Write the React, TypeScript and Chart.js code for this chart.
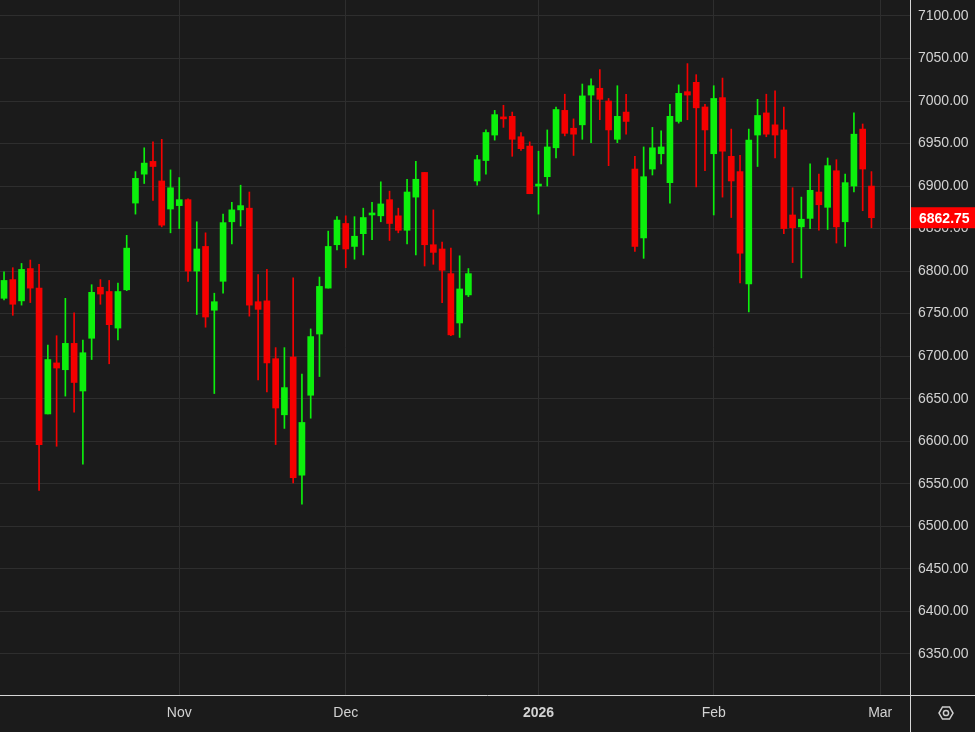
import { useEffect, useRef } from 'react';
import { Chart, registerables } from 'chart.js';

Chart.register(...registerables);

// daily candles, Oct 6 2025 -> Feb 27 2026
const opens = [
  6768, 6790, 6765, 6803, 6780, 6632, 6692, 6684, 6715, 6659,
  6721, 6781, 6776, 6733, 6778, 6880, 6914, 6929, 6906, 6873,
  6877, 6884, 6800, 6829, 6754, 6788, 6858, 6872, 6874, 6764,
  6765, 6697, 6631, 6699, 6560, 6654, 6726, 6780, 6831, 6856,
  6829, 6844, 6866, 6865, 6884, 6865, 6848, 6887, 6916, 6831,
  6826, 6797, 6739, 6772, 6906, 6930, 6960, 6980, 6982, 6958,
  6947, 6900, 6911, 6945, 6989, 6968, 6972, 7007, 7015, 7000,
  6955, 6987, 6920, 6839, 6920, 6938, 6904, 6976, 7011, 7022,
  6993, 6938, 7004, 6935, 6917, 6785, 6960, 6986, 6972, 6966,
  6866, 6852, 6862, 6893, 6875, 6918, 6858, 6900, 6967, 6900,
];
const highs = [
  6799, 6804, 6809, 6813, 6808, 6713, 6724, 6768, 6751, 6719,
  6784, 6790, 6789, 6786, 6842, 6917, 6945, 6952, 6955, 6919,
  6910, 6885, 6858, 6845, 6774, 6867, 6881, 6901, 6893, 6796,
  6802, 6710, 6710, 6792, 6679, 6732, 6793, 6847, 6864, 6865,
  6864, 6874, 6881, 6905, 6894, 6874, 6908, 6929, 6916, 6872,
  6834, 6827, 6818, 6803, 6936, 6966, 6989, 6995, 6987, 6963,
  6952, 6941, 6966, 6993, 7008, 6979, 7020, 7026, 7037, 7003,
  7018, 7008, 6935, 6946, 6969, 6965, 6996, 7019, 7044, 7031,
  6996, 7018, 7027, 6967, 6936, 6967, 7002, 7008, 7012, 6993,
  6898, 6887, 6926, 6914, 6933, 6931, 6914, 6986, 6973, 6917,
];
const lows = [
  6766, 6748, 6760, 6763, 6542, 6632, 6594, 6653, 6634, 6573,
  6696, 6761, 6691, 6719, 6777, 6867, 6903, 6883, 6852, 6845,
  6850, 6788, 6749, 6734, 6656, 6774, 6832, 6853, 6747, 6672,
  6658, 6596, 6615, 6551, 6526, 6627, 6676, 6780, 6825, 6804,
  6814, 6819, 6837, 6858, 6836, 6845, 6832, 6819, 6806, 6808,
  6763, 6724, 6722, 6770, 6901, 6914, 6954, 6969, 6935, 6942,
  6891, 6867, 6900, 6933, 6959, 6936, 6955, 6951, 6978, 6924,
  6951, 6961, 6823, 6815, 6913, 6926, 6880, 6974, 6978, 6899,
  6918, 6866, 6887, 6863, 6786, 6752, 6923, 6958, 6933, 6844,
  6810, 6792, 6850, 6848, 6849, 6833, 6829, 6893, 6871, 6851,
];
const closes = [
  6789, 6761, 6802, 6780, 6596, 6696, 6686, 6715, 6669, 6704,
  6775, 6773, 6737, 6776, 6827, 6909, 6927, 6923, 6854, 6898,
  6884, 6800, 6826, 6746, 6764, 6857, 6872, 6877, 6760, 6755,
  6692, 6639, 6663, 6557, 6622, 6723, 6782, 6829, 6860, 6826,
  6841, 6863, 6867, 6879, 6856, 6848, 6893, 6908, 6831, 6822,
  6801, 6725, 6779, 6797, 6931, 6963, 6984, 6979, 6955, 6944,
  6891, 6902, 6946, 6990, 6962, 6961, 7006, 7018, 7002, 6966,
  6982, 6976, 6829, 6911, 6945, 6946, 6982, 7009, 7007, 6992,
  6966, 7003, 6941, 6906, 6821, 6954, 6983, 6961, 6960, 6850,
  6851, 6861, 6895, 6878, 6924, 6852, 6904, 6961, 6920, 6862.75,
];

const monthTickIndex = [20, 39, 61, 81, 100];
const monthTickLabels = ['Nov', 'Dec', '2026', 'Feb', 'Mar'];
const priceTicks = [
  6350, 6400, 6450, 6500, 6550, 6600, 6650, 6700,
  6750, 6800, 6850, 6900, 6950, 7000, 7050, 7100,
];

const UP = '#0cf00c';
const DOWN = '#f50000';
const BG = '#1b1b1b';
const GRID = '#2e2e2e';
const AXIS = '#d6d6d6';
const TEXT = '#d2d2d2';
const FONT = '"Liberation Sans", Arial, sans-serif';

const chromePlugin = {
  id: 'chrome',
  beforeDraw(chart: any) {
    const { ctx, width, height } = chart;
    ctx.save();
    ctx.fillStyle = BG;
    ctx.fillRect(0, 0, width, height);
    ctx.restore();
  },
  afterDraw(chart: any) {
    const { ctx, width, height, chartArea } = chart;
    const yScale = chart.scales.y;
    ctx.save();
    // axis borders
    ctx.strokeStyle = AXIS;
    ctx.lineWidth = 1;
    ctx.beginPath();
    ctx.moveTo(Math.round(chartArea.right) + 0.5, 0);
    ctx.lineTo(Math.round(chartArea.right) + 0.5, height);
    ctx.moveTo(0, Math.round(chartArea.bottom) + 0.5);
    ctx.lineTo(width, Math.round(chartArea.bottom) + 0.5);
    ctx.stroke();

    // last price tag
    const last = closes[closes.length - 1];
    const py = yScale.getPixelForValue(last);
    ctx.fillStyle = '#ff0000';
    ctx.fillRect(chartArea.right + 1, py - 10.5, width - chartArea.right - 1, 21);
    ctx.fillStyle = '#ffffff';
    ctx.font = `bold 14px ${FONT}`;
    ctx.textAlign = 'left';
    ctx.textBaseline = 'middle';
    ctx.fillText(last.toFixed(2), chartArea.right + 9, py + 1);

    // settings icon
    const cx = 946;
    const cy = 713;
    const r = 7;
    ctx.strokeStyle = '#cfcfcf';
    ctx.lineWidth = 1.5;
    ctx.beginPath();
    for (let k = 0; k < 6; k++) {
      const a = (Math.PI / 3) * k;
      const px = cx + r * Math.cos(a);
      const pyy = cy + r * Math.sin(a);
      if (k === 0) ctx.moveTo(px, pyy);
      else ctx.lineTo(px, pyy);
    }
    ctx.closePath();
    ctx.stroke();
    ctx.beginPath();
    ctx.arc(cx, cy, 2.6, 0, Math.PI * 2);
    ctx.stroke();
    ctx.restore();
  },
};

export default function App() {
  const chartRef = useRef<HTMLCanvasElement>(null);

  useEffect(() => {
    document.body.style.margin = '0';
    document.body.style.background = BG;
    if (!chartRef.current) return;
    const ctx = chartRef.current.getContext('2d');
    if (!ctx) return;

    const idx = closes.map((_, i) => i);
    const colors = idx.map((i) => (closes[i] >= opens[i] ? UP : DOWN));

    const chart = new Chart(ctx, {
      type: 'bar',
      data: {
        datasets: [
          {
            label: 'Body',
            data: idx.map((i) => ({ x: i, y: [opens[i], closes[i]] })) as any,
            backgroundColor: colors,
            barThickness: 6,
            minBarLength: 2,
            grouped: false,
            order: 0,
          },
          {
            label: 'Wick',
            data: idx.map((i) => ({ x: i, y: [lows[i], highs[i]] })) as any,
            backgroundColor: colors,
            barThickness: 1,
            grouped: false,
            order: 1,
          },
        ],
      },
      options: {
        responsive: true,
        maintainAspectRatio: false,
        animation: false,
        events: [],
        layout: { padding: 0 },
        plugins: {
          legend: { display: false },
          tooltip: { enabled: false },
        },
        scales: {
          x: {
            type: 'linear',
            min: -0.46,
            max: 103.4,
            offset: false,
            afterFit: (scale: any) => {
              scale.height = 37;
              scale.paddingLeft = 0;
              scale.paddingRight = 0;
            },
            afterBuildTicks: (scale: any) => {
              scale.ticks = monthTickIndex.map((v) => ({ value: v }));
            },
            grid: {
              color: GRID,
              offset: false,
              drawTicks: false,
            },
            border: { display: false },
            ticks: {
              autoSkip: false,
              maxRotation: 0,
              padding: 10,
              color: TEXT,
              font: (c: any) => {
                const lbl = monthTickLabels[monthTickIndex.indexOf(c.tick?.value)];
                return {
                  family: FONT,
                  size: 14,
                  weight: /^\d{4}$/.test(lbl || '') ? 'bold' : 'normal',
                };
              },
              callback: (v: any) => monthTickLabels[monthTickIndex.indexOf(Number(v))],
            },
          },
          y: {
            type: 'linear',
            position: 'right',
            min: 6301.5,
            max: 7118.8,
            afterFit: (scale: any) => {
              scale.width = 65;
              scale.paddingTop = 0;
              scale.paddingBottom = 0;
            },
            afterBuildTicks: (scale: any) => {
              scale.ticks = priceTicks.map((v) => ({ value: v }));
            },
            grid: {
              color: GRID,
              drawTicks: false,
            },
            border: { display: false },
            ticks: {
              padding: 8,
              color: TEXT,
              font: { family: FONT, size: 14 },
              callback: (v: any) => Number(v).toFixed(2),
            },
          },
        },
      },
      plugins: [chromePlugin],
    });

    return () => chart.destroy();
  }, []);

  return (
    <div style={{ width: 975, height: 732, position: 'relative' }}>
      <canvas ref={chartRef} />
    </div>
  );
}
